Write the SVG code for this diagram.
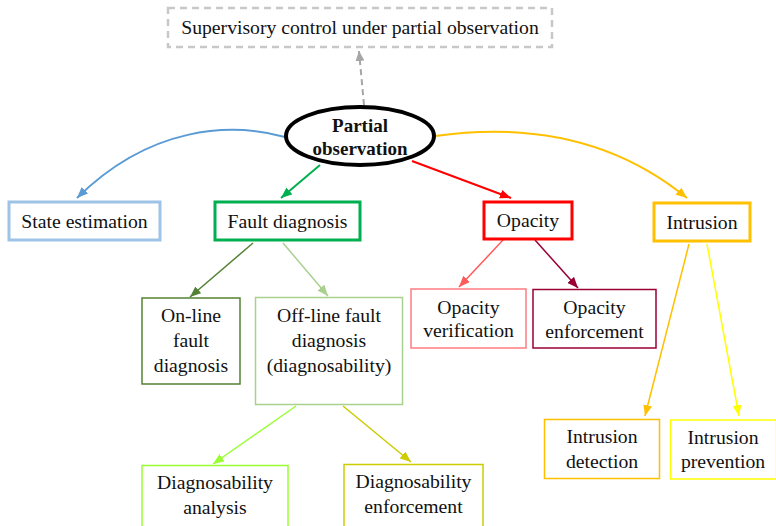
<svg xmlns="http://www.w3.org/2000/svg" width="776" height="526" viewBox="0 0 776 526">
<style>
text{font-family:"Liberation Serif","Times New Roman",serif;font-size:19.7px;fill:#111;text-anchor:middle}
.b{font-weight:bold;font-size:19px}
rect{fill:#fff}
.c{fill:none}
</style>
<defs>
<marker id="mGray" markerUnits="userSpaceOnUse" markerWidth="10" markerHeight="9" refX="10" refY="4.5" orient="auto"><path d="M0,0L10,4.5L0,9z" fill="#a6a6a6"/></marker>
<marker id="mBlue" markerUnits="userSpaceOnUse" markerWidth="11" markerHeight="9" refX="11" refY="4.5" orient="auto"><path d="M0,0L11,4.5L0,9z" fill="#5b9bd5"/></marker>
<marker id="mGreen" markerUnits="userSpaceOnUse" markerWidth="11" markerHeight="9" refX="11" refY="4.5" orient="auto"><path d="M0,0L11,4.5L0,9z" fill="#00b050"/></marker>
<marker id="mRed" markerUnits="userSpaceOnUse" markerWidth="11" markerHeight="9" refX="11" refY="4.5" orient="auto"><path d="M0,0L11,4.5L0,9z" fill="#ff0000"/></marker>
<marker id="mGold" markerUnits="userSpaceOnUse" markerWidth="11" markerHeight="9" refX="11" refY="4.5" orient="auto"><path d="M0,0L11,4.5L0,9z" fill="#ffc000"/></marker>
<marker id="mYel" markerUnits="userSpaceOnUse" markerWidth="11" markerHeight="9" refX="11" refY="4.5" orient="auto"><path d="M0,0L11,4.5L0,9z" fill="#ffff00"/></marker>
<marker id="mDkG" markerUnits="userSpaceOnUse" markerWidth="11" markerHeight="9" refX="11" refY="4.5" orient="auto"><path d="M0,0L11,4.5L0,9z" fill="#548235"/></marker>
<marker id="mLtG" markerUnits="userSpaceOnUse" markerWidth="11" markerHeight="9" refX="11" refY="4.5" orient="auto"><path d="M0,0L11,4.5L0,9z" fill="#a9d18e"/></marker>
<marker id="mLime" markerUnits="userSpaceOnUse" markerWidth="11" markerHeight="9" refX="11" refY="4.5" orient="auto"><path d="M0,0L11,4.5L0,9z" fill="#99ff33"/></marker>
<marker id="mOlive" markerUnits="userSpaceOnUse" markerWidth="11" markerHeight="9" refX="11" refY="4.5" orient="auto"><path d="M0,0L11,4.5L0,9z" fill="#cccc00"/></marker>
<marker id="mPink" markerUnits="userSpaceOnUse" markerWidth="11" markerHeight="9" refX="11" refY="4.5" orient="auto"><path d="M0,0L11,4.5L0,9z" fill="#ff5b5b"/></marker>
<marker id="mMaroon" markerUnits="userSpaceOnUse" markerWidth="11" markerHeight="9" refX="11" refY="4.5" orient="auto"><path d="M0,0L11,4.5L0,9z" fill="#990033"/></marker>
</defs>

<g id="connectors" class="c">
<path d="M364,105 L359,51" stroke="#a6a6a6" stroke-width="2" stroke-dasharray="6,4" marker-end="url(#mGray)"/>
<path d="M285,137 C230,122 150,126 77,198" stroke="#5b9bd5" stroke-width="2" marker-end="url(#mBlue)"/>
<path d="M320,165 L281,198" stroke="#00b050" stroke-width="2" marker-end="url(#mGreen)"/>
<path d="M412,161 L511,198" stroke="#ff0000" stroke-width="2" marker-end="url(#mRed)"/>
<path d="M435,136 C520,124 610,135 687,198" stroke="#ffc000" stroke-width="2" marker-end="url(#mGold)"/>
<path d="M253,243 L190,297" stroke="#548235" stroke-width="1.5" marker-end="url(#mDkG)"/>
<path d="M283,243 L328,296" stroke="#a9d18e" stroke-width="1.5" marker-end="url(#mLtG)"/>
<path d="M503,240 L459,287" stroke="#ff5b5b" stroke-width="1.5" marker-end="url(#mPink)"/>
<path d="M535,240 L578,288" stroke="#990033" stroke-width="1.5" marker-end="url(#mMaroon)"/>
<path d="M689,244 L645,416" stroke="#ffc000" stroke-width="1.5" marker-end="url(#mGold)"/>
<path d="M707,244 L739,416" stroke="#ffff00" stroke-width="1.5" marker-end="url(#mYel)"/>
<path d="M296,406 L213,464" stroke="#99ff33" stroke-width="1.5" marker-end="url(#mLime)"/>
<path d="M343,406 L411,462" stroke="#cccc00" stroke-width="1.5" marker-end="url(#mOlive)"/>
</g>

<g id="supervisory">
<rect x="168" y="8" width="384" height="39" stroke="#c8c8c8" stroke-width="2.5" stroke-dasharray="7,5"/>
<text x="360" y="34">Supervisory control under partial observation</text>
</g>
<g id="partial">
<ellipse cx="360" cy="136" rx="74" ry="29" fill="#fff" stroke="#000" stroke-width="4"/>
<text class="b" x="360" y="132">Partial</text>
<text class="b" x="360" y="155">observation</text>
</g>
<g id="state">
<rect x="9" y="202" width="151" height="38" stroke="#9dc3e6" stroke-width="3"/>
<text x="84.5" y="228">State estimation</text>
</g>
<g id="fault">
<rect x="215" y="202" width="145" height="38" stroke="#00b050" stroke-width="3"/>
<text x="287.5" y="228">Fault diagnosis</text>
</g>
<g id="opacity">
<rect x="484" y="202" width="88" height="37" stroke="#ff0000" stroke-width="3"/>
<text x="528" y="227">Opacity</text>
</g>
<g id="intrusion">
<rect x="654" y="203" width="96" height="38" stroke="#ffc000" stroke-width="3"/>
<text x="702" y="229">Intrusion</text>
</g>
<g id="online">
<rect x="142" y="298" width="98" height="86" stroke="#548235" stroke-width="1.5"/>
<text x="191" y="322">On-line</text>
<text x="191" y="347">fault</text>
<text x="191" y="372">diagnosis</text>
</g>
<g id="offline">
<rect x="255.5" y="297.5" width="147" height="107" stroke="#a9d18e" stroke-width="1.5"/>
<text x="329" y="322">Off-line fault</text>
<text x="329" y="347">diagnosis</text>
<text x="329" y="372">(diagnosability)</text>
</g>
<g id="opver">
<rect x="411" y="289" width="115" height="59" stroke="#ff7c80" stroke-width="1.5"/>
<text x="468.5" y="314">Opacity</text>
<text x="468.5" y="337">verification</text>
</g>
<g id="openf">
<rect x="533" y="289.5" width="123" height="58.5" stroke="#990033" stroke-width="1.5"/>
<text x="594.5" y="314">Opacity</text>
<text x="594.5" y="338">enforcement</text>
</g>
<g id="indet">
<rect x="544.5" y="419.5" width="115" height="59" stroke="#ffc000" stroke-width="1.5"/>
<text x="602" y="443">Intrusion</text>
<text x="602" y="468">detection</text>
</g>
<g id="inprev">
<rect x="670.5" y="420" width="106" height="59" stroke="#ffff00" stroke-width="1.5"/>
<text x="723" y="444">Intrusion</text>
<text x="723" y="468">prevention</text>
</g>
<g id="dana">
<rect x="142" y="465.5" width="146" height="70" stroke="#99ff33" stroke-width="1.5"/>
<text x="215" y="489">Diagnosability</text>
<text x="215" y="514">analysis</text>
</g>
<g id="denf">
<rect x="344" y="464.5" width="139" height="70" stroke="#cccc00" stroke-width="1.5"/>
<text x="413.5" y="488">Diagnosability</text>
<text x="413.5" y="513">enforcement</text>
</g>
</svg>
